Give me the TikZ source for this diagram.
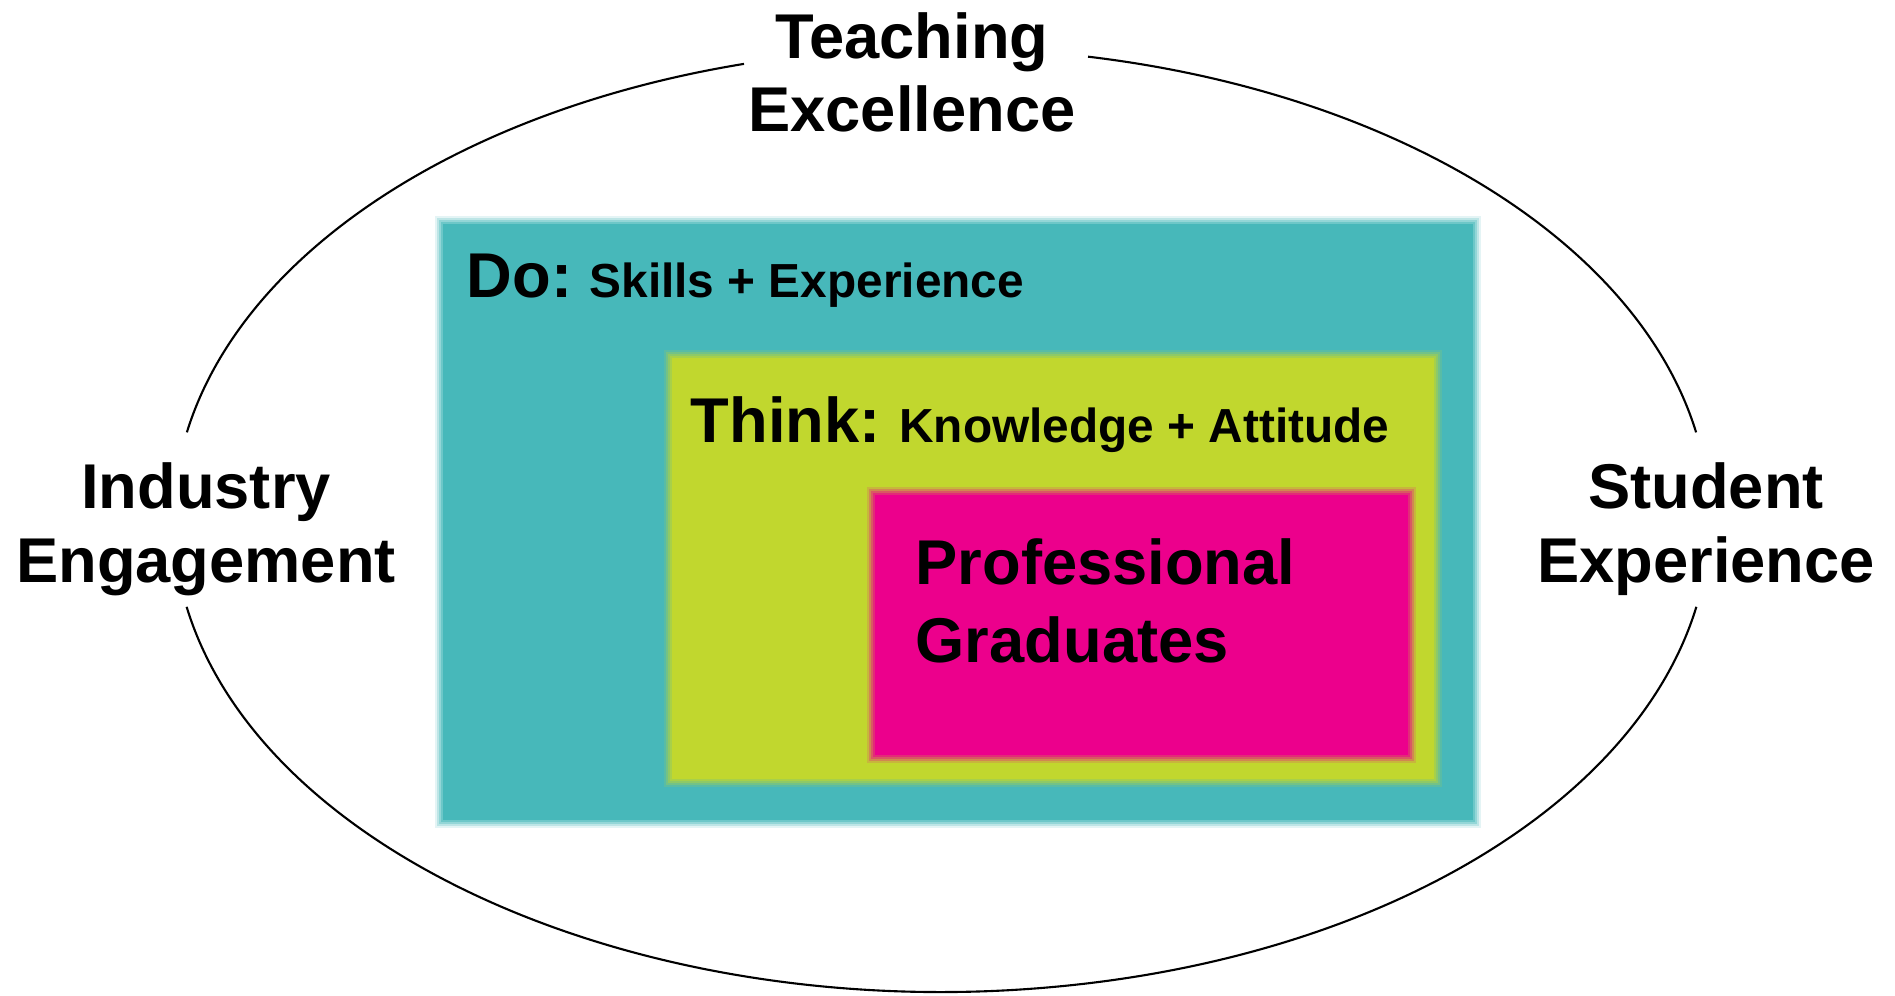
\documentclass[tikz,border=0pt]{standalone}
\usepackage{fontspec}
\setmainfont{Liberation Sans}
\usetikzlibrary{calc}

\definecolor{doteal}{HTML}{47B8BA}
\definecolor{thinkgreen}{HTML}{C1D72E}
\definecolor{gradpink}{HTML}{EC008C}

\tikzset{
	ring/.style={line width=0.6pt},
	outerlabel/.style={font=\fontsize{18}{21}\selectfont\bfseries, align=center, inner sep=0pt, anchor=base},
	boxhead/.style={font=\fontsize{18}{21}\selectfont\bfseries, inner sep=0pt, anchor=base west},
	gradlabel/.style={font=\fontsize{18}{22.2}\selectfont\bfseries, align=left, inner sep=0pt, anchor=base west},
}

% soft edged box: colour, lower left, upper right
\newcommand{\softbox}[3]{%
	\foreach \s/\o in {0.04/0.15,0.02/0.25,0/0.35,-0.02/0.5,-0.04/1} {
		\fill[#1, opacity=\o] ($#2+(-\s,-\s)$) rectangle ($#3+(\s,\s)$);
	}%
}

\begin{document}
\begin{tikzpicture}

% parameters %{{{2

	\def\ra{7.68}
	\def\rb{4.72}

	\useasboundingbox (0,0) rectangle (18.95,9.95);

% coordinates %{{{2

	\coordinate (O) at (9.415,4.75);

	\coordinate (D1) at (4.39,1.71);
	\coordinate (D2) at (14.77,7.75);
	\coordinate (T1) at (6.68,2.12);
	\coordinate (T2) at (14.38,6.41);
	\coordinate (G1) at (8.71,2.36);
	\coordinate (G2) at (14.12,5.04);

% ring %{{{2

	\draw[ring] ($(O)+(10.7:\ra cm and \rb cm)$) arc[start angle=10.7, end angle=79.0, x radius=\ra, y radius=\rb];
	\draw[ring] ($(O)+(104.9:\ra cm and \rb cm)$) arc[start angle=104.9, end angle=169.3, x radius=\ra, y radius=\rb];
	\draw[ring] ($(O)+(190.6:\ra cm and \rb cm)$) arc[start angle=190.6, end angle=349.4, x radius=\ra, y radius=\rb];

% boxes %{{{2

	\softbox{doteal}{(D1)}{(D2)}
	\softbox{thinkgreen}{(T1)}{(T2)}
	\softbox{gradpink}{(G1)}{(G2)}

% labels %{{{2

	\node[outerlabel] (teach) at (9.12,8.63) {Teaching\\Excellence};
	\node[outerlabel] (industry) at (2.06,4.13) {Industry\\Engagement};
	\node[outerlabel] (student) at (17.06,4.13) {Student\\Experience};

	\node[boxhead] (do) at (4.66,6.97) {Do:{\fontsize{13.6}{16}\selectfont\ \hspace{1.2pt}Skills + Experience}};
	\node[boxhead] (think) at (6.90,5.52) {Think:{\fontsize{13.6}{16}\selectfont\ \hspace{1.6pt}Knowledge + Attitude}};

	\node[gradlabel] (grad) at (9.15,3.32) {Professional\\Graduates};

% closing %{{{2

\end{tikzpicture}
\end{document}
